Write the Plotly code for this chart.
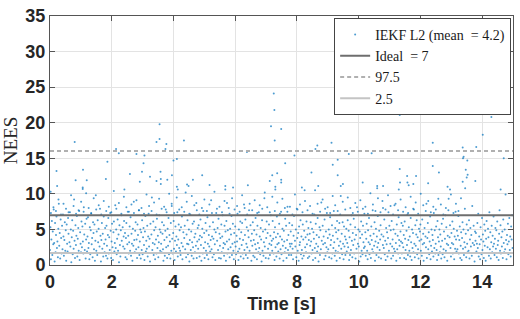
import numpy as np
import plotly.graph_objects as go

# ---------------- data ----------------
dt = 0.015  # sample period of the main NEES series [s]
nees_samples = [
2.1,5.3,0.8,3.6,6.2,1.4,4.7,2.9,7.8,3.1,0.5,5.9,1.8,4.2,6.8,2.4,3.3,1.1,5.1,8.6,2.7,4.5,0.9,6.4,3.8,1.6,5.5,2.2,7.1,4.0,1.3,3.5,6.0,2.0,4.9,0.6,5.7,3.0,1.9,6.6,
4.4,1.7,3.2,7.4,2.6,5.0,0.4,3.9,6.3,1.5,4.8,2.3,9.2,3.4,1.0,5.6,2.8,4.1,6.9,1.2,3.7,5.2,2.0,7.6,0.7,4.6,3.0,1.8,6.1,2.5,5.4,3.3,1.6,8.1,4.3,2.1,5.8,0.9,3.6,6.5,
1.9,4.0,6.7,2.4,3.1,0.8,5.3,1.5,4.9,7.2,2.9,3.8,1.1,6.0,4.5,2.2,5.7,0.6,3.4,9.8,2.0,4.7,1.4,6.3,3.2,5.1,1.7,2.6,7.9,4.1,0.5,3.5,5.9,2.3,4.4,1.2,6.8,3.0,1.8,5.2,
3.6,1.3,5.5,2.7,0.9,4.2,6.6,1.6,3.9,2.1,7.3,4.8,1.0,3.3,5.8,2.5,0.7,4.6,6.1,1.9,3.1,8.4,2.4,5.0,1.5,3.7,6.4,2.0,4.3,0.4,5.6,2.8,1.2,4.9,7.0,3.4,1.7,5.3,2.6,4.0,
6.2,2.3,4.5,1.1,3.8,5.9,0.8,2.9,7.5,4.1,1.6,3.2,5.4,2.0,6.7,1.3,4.4,3.0,0.6,5.1,2.7,8.9,3.5,1.8,4.8,6.0,2.2,3.6,1.0,5.7,4.2,2.5,7.7,1.4,3.3,5.0,0.9,4.6,2.1,6.3,
1.5,3.9,5.2,2.8,0.7,4.7,6.9,1.9,3.4,2.3,5.5,1.2,4.0,7.2,2.6,3.7,0.5,5.8,1.7,4.3,9.5,2.1,3.1,6.1,1.4,4.9,2.9,0.8,5.3,3.6,1.6,6.5,2.4,4.1,1.1,3.2,7.0,5.0,2.0,4.6,
3.0,1.8,6.0,4.4,2.2,0.6,5.6,3.5,1.3,4.8,7.8,2.5,3.9,1.0,5.1,2.7,6.6,1.5,4.2,3.3,0.9,5.9,2.0,8.3,3.7,1.6,4.5,6.2,2.3,0.7,3.4,5.4,1.9,4.0,2.8,7.4,1.2,3.6,5.7,2.4,
4.9,2.0,1.4,5.3,3.1,6.8,0.8,2.6,4.6,1.7,3.8,5.5,2.2,10.2,1.1,4.3,3.0,6.3,1.5,2.9,5.0,0.5,3.5,7.1,2.1,4.7,1.3,3.2,5.8,2.5,0.9,6.1,3.9,1.8,4.4,2.7,8.7,1.0,3.3,5.2,
2.3,5.6,3.6,1.2,4.1,6.4,2.8,0.6,3.9,5.1,1.6,7.6,2.4,4.5,1.0,3.2,5.9,2.0,4.8,1.4,6.7,3.0,0.8,4.2,2.6,5.4,1.9,3.5,9.1,2.2,4.0,1.1,6.0,3.7,1.5,5.0,2.9,0.7,4.6,7.3,
1.7,3.4,5.2,2.1,6.5,1.0,4.4,2.7,3.8,0.9,5.7,1.8,4.0,7.0,2.4,3.1,1.3,5.5,2.9,4.7,0.6,6.2,3.3,1.6,4.9,2.2,8.0,3.6,1.1,5.1,2.5,4.3,6.9,1.4,3.0,5.8,2.0,0.8,4.5,3.2,
5.4,2.6,1.5,4.1,3.3,7.2,1.9,0.7,5.0,2.3,3.7,6.1,1.2,4.6,2.8,5.9,1.6,3.5,0.9,8.5,2.1,4.2,6.4,1.4,3.0,5.3,2.5,1.0,4.8,3.9,7.7,2.0,1.7,5.6,3.4,0.6,4.4,2.7,6.0,1.3,
3.5,4.9,1.1,2.9,6.6,2.2,4.3,0.8,5.5,3.1,1.8,7.4,2.4,4.0,1.5,5.2,3.6,0.5,6.3,2.0,4.7,1.3,3.2,9.4,2.6,5.0,1.0,3.8,6.1,1.7,4.5,2.3,0.9,5.7,3.0,1.4,4.1,7.0,2.8,3.4,
2.0,6.2,3.7,1.6,4.6,0.7,5.3,2.5,3.9,1.2,6.8,2.9,4.4,1.9,3.1,5.8,0.9,4.0,2.2,7.5,1.5,3.6,5.1,2.7,0.6,4.8,3.3,1.8,6.5,2.4,5.5,1.0,3.5,8.2,2.1,4.2,1.4,5.9,3.0,2.6,
4.7,1.4,3.0,5.6,2.3,0.8,4.1,6.9,1.7,3.4,2.6,5.0,1.1,7.9,3.8,2.0,4.5,0.6,5.4,2.8,3.2,6.3,1.5,4.0,2.1,0.9,5.7,3.6,1.3,4.8,10.5,2.5,3.9,1.8,6.1,2.9,4.3,1.0,5.2,3.5,
1.2,4.4,2.7,6.0,3.3,1.6,5.1,2.1,0.7,4.6,3.7,7.1,2.4,1.0,5.8,3.0,4.2,1.9,6.6,2.6,0.5,3.9,5.3,1.4,4.9,2.2,8.8,3.4,1.7,5.5,2.9,4.0,0.8,6.4,3.1,1.3,4.7,2.5,7.3,1.8,
3.8,2.2,5.0,1.1,4.3,6.7,2.8,3.5,0.9,5.6,1.6,4.1,2.4,7.6,3.2,1.3,5.2,2.0,4.6,0.6,6.2,3.7,1.8,4.9,2.7,5.9,1.0,3.3,9.7,2.3,4.4,1.5,6.0,3.0,0.8,5.4,2.6,4.0,1.4,3.6,
5.1,1.9,3.1,6.3,2.5,4.8,0.7,3.9,1.4,5.7,2.1,7.0,3.4,1.1,4.5,2.8,6.5,1.6,3.6,5.3,0.9,4.2,2.3,8.1,1.7,3.0,5.0,2.6,0.5,4.7,3.8,1.2,6.1,2.0,4.3,1.5,5.5,3.2,2.4,7.2,
2.6,4.6,1.3,3.7,5.8,2.0,0.8,4.9,3.2,6.6,1.5,2.9,4.1,1.0,5.4,3.5,2.2,7.7,1.8,4.4,2.7,6.0,0.6,3.3,5.1,1.4,4.0,2.5,6.9,3.1,1.1,4.8,2.1,3.6,5.6,0.9,4.3,1.7,9.0,2.8,
4.0,2.4,6.4,1.5,3.4,0.7,5.2,2.9,4.6,1.2,3.8,7.4,2.0,5.5,1.7,3.0,4.9,0.9,6.2,2.6,3.6,1.3,5.0,2.3,8.4,1.9,4.4,3.1,0.6,5.7,2.2,4.1,1.6,6.7,3.5,2.7,1.0,4.7,3.3,5.9,
1.6,3.1,5.5,2.5,4.2,1.0,6.1,3.7,2.1,0.8,4.8,2.8,7.1,1.4,3.5,5.3,2.0,4.0,1.2,6.6,3.2,0.7,5.0,2.4,4.5,1.8,7.8,3.0,1.1,5.6,2.7,4.3,6.3,1.5,3.9,2.2,0.9,5.1,3.4,4.7,
5.7,2.0,3.6,1.3,6.4,2.9,4.4,0.6,3.1,5.2,1.7,4.0,2.5,8.6,1.0,3.8,5.9,2.2,4.6,1.5,3.3,6.8,0.8,2.7,5.0,1.9,4.2,3.5,1.2,7.3,2.4,4.9,1.6,3.0,5.4,2.1,0.7,6.2,3.9,1.4,
3.3,5.0,1.8,4.3,2.6,0.9,5.8,3.4,1.5,6.5,2.2,4.7,1.1,3.7,7.0,2.0,5.3,3.0,0.6,4.1,2.8,9.3,1.7,3.9,5.6,2.4,1.2,4.5,3.1,6.1,1.6,2.9,5.1,0.8,4.0,2.3,7.5,3.6,1.9,4.8,
2.2,4.1,6.9,1.6,3.5,5.4,1.0,2.7,4.6,0.7,3.8,6.0,2.3,5.0,1.4,3.2,7.9,2.5,4.4,1.1,5.7,3.0,1.8,4.9,2.0,6.3,0.9,3.6,5.2,2.6,4.2,1.3,8.3,3.1,1.7,5.5,2.8,0.5,4.7,3.4,
4.5,1.9,3.0,5.9,2.4,7.2,1.2,4.0,2.9,0.8,5.3,3.6,1.5,6.6,2.1,4.3,3.3,1.0,5.7,2.7,4.8,0.6,3.7,6.2,1.7,2.5,5.1,3.9,1.3,7.4,2.2,4.6,0.9,3.2,5.5,1.8,4.1,2.6,6.8,3.0,
1.4,3.7,5.2,2.3,4.9,1.1,6.1,2.8,3.4,0.7,4.4,7.7,2.0,5.6,1.6,3.9,2.6,4.7,1.0,6.4,3.1,1.8,5.0,2.2,9.9,3.5,0.8,4.2,2.9,5.8,1.5,3.3,6.6,2.1,4.0,1.2,5.4,3.6,7.0,2.4,
]

# interleaved samples that fall just above the ideal line
mid_start = 0.03
mid_dt = 0.0815
mid_samples = [
7.3,8.1,7.6,9.2,7.1,8.6,7.9,7.4,9.8,8.3,7.2,7.7,8.9,7.5,10.1,8.0,7.3,9.4,7.8,8.4,
7.1,9.0,7.6,8.2,7.4,10.4,7.9,8.7,7.2,9.6,8.1,7.5,8.5,7.3,9.1,7.7,8.0,7.2,9.9,8.3,
7.6,8.8,7.1,9.3,7.9,8.2,7.4,10.0,8.6,7.3,9.5,7.8,8.1,7.5,8.9,7.2,9.7,8.4,7.7,7.1,
8.0,9.2,7.6,8.5,7.3,10.3,7.9,8.2,7.4,9.0,8.7,7.2,9.4,7.8,8.3,7.5,9.8,8.0,7.1,8.6,
7.7,9.1,7.3,8.4,7.9,10.2,8.1,7.4,9.6,7.6,8.8,7.2,9.3,8.0,7.5,8.2,7.1,9.9,7.8,8.5,
7.4,9.0,7.7,8.3,7.2,10.5,8.6,7.5,9.2,7.9,8.1,7.3,9.7,8.4,7.6,7.1,8.9,7.8,9.5,8.0,
7.3,8.7,7.5,9.1,7.9,8.2,7.2,10.1,8.5,7.6,9.4,7.4,8.0,7.8,9.8,8.3,7.1,8.6,7.7,9.2,
7.5,8.1,7.3,9.6,7.9,8.8,7.2,10.0,8.4,7.6,9.0,7.4,8.2,7.8,9.3,8.5,7.1,8.0,7.7,9.9,
7.3,8.6,7.6,9.4,
]

# isolated high NEES values (time [s], value)
peak_times = [
0.02,0.80,3.55,3.55,3.45,3.77,4.34,3.74,2.14,2.23,2.80,3.06,4.00,4.11,1.86,3.03,0.21,1.07,2.59,2.98,
3.58,3.95,4.63,4.93,0.83,1.19,1.81,3.24,3.59,3.59,3.45,3.80,2.91,0.23,1.06,1.06,2.41,4.11,4.14,4.44,4.49,
7.25,7.27,7.16,7.49,7.28,9.12,8.66,8.60,6.38,7.92,9.68,9.32,7.62,9.16,7.36,7.20,8.47,9.32,7.49,7.49,
7.12,9.49,9.42,5.17,6.41,8.69,5.68,5.68,5.93,7.30,7.30,8.16,
11.33,11.83,14.30,14.02,12.40,13.37,13.81,10.42,13.38,13.40,13.52,14.70,12.40,11.33,12.60,13.47,13.53,
11.57,11.86,13.50,13.78,13.37,10.13,11.34,11.58,11.62,11.77,12.25,10.60,10.60,10.79,12.88,12.96,13.45,11.30,14.60,
]
peak_values = [
10.3,17.3,19.8,17.7,17.3,17.0,17.5,16.3,16.3,15.7,15.6,15.4,14.7,14.9,14.5,14.3,13.2,13.4,12.8,13.1,
13.1,12.6,12.0,12.6,11.9,11.9,12.1,12.4,12.1,11.4,11.8,12.0,11.7,11.1,10.9,10.7,10.6,11.0,10.6,11.3,11.1,
24.1,21.8,19.5,19.1,17.5,17.2,16.8,16.3,15.9,15.4,15.6,14.8,14.3,14.1,12.9,12.6,13.0,12.6,12.0,11.6,
11.8,11.4,11.1,11.25,11.2,11.1,11.1,10.6,10.9,11.0,10.6,10.9,
21.1,21.5,20.8,18.3,17.2,16.5,16.6,15.7,15.0,15.2,14.7,15.0,13.9,13.5,13.0,13.4,12.7,
12.5,12.5,12.3,11.8,11.7,11.6,11.6,11.6,11.2,11.4,11.5,11.1,10.8,11.1,11.0,10.6,10.8,10.6,10.6,
]

mean_nees = 4.2
ideal = 7
chi2_upper = 16.01   # 97.5 % bound
chi2_lower = 1.69    # 2.5 % bound
time_limits = [0, 15]
y_limits = [0, 35]
x_ticks = [0, 2, 4, 6, 8, 10, 12, 14]
y_ticks = [0, 5, 10, 15, 20, 25, 30, 35]

# ---------------- figure ----------------
t_samples = np.arange(len(nees_samples)) * dt
t_mid = mid_start + np.arange(len(mid_samples)) * mid_dt
t_all = np.concatenate([t_samples, t_mid, peak_times])
y_all = np.concatenate([nees_samples, mid_samples, peak_values])

serif = "Liberation Serif, Times New Roman, serif"
sans = "Liberation Sans, Arial, sans-serif"

fig = go.Figure()
fig.add_trace(go.Scatter(
    x=t_all, y=y_all, mode="markers",
    marker=dict(size=2, color="rgba(0,114,189,0.7)", line=dict(width=0)),
    name=f"IEKF L2 (mean  = {mean_nees})",
))
fig.add_trace(go.Scatter(
    x=time_limits, y=[ideal, ideal], mode="lines",
    line=dict(color="#6e6e6e", width=2),
    name=f"Ideal  = {ideal}",
))
fig.add_trace(go.Scatter(
    x=time_limits, y=[chi2_upper, chi2_upper], mode="lines",
    line=dict(color="#b0b0b0", width=2, dash="4px,3px"),
    name="97.5",
))
fig.add_trace(go.Scatter(
    x=time_limits, y=[chi2_lower, chi2_lower], mode="lines",
    line=dict(color="#c4c4c4", width=2),
    name="2.5",
))

axis_common = dict(
    showline=True, linecolor="#555555", linewidth=1, mirror="allticks",
    ticks="inside", ticklen=5, tickcolor="#555555",
    showgrid=True, gridcolor="#e3e3e3", gridwidth=1, zeroline=False,
    tickfont=dict(family=sans, size=18, color="#262626", weight="bold"),
)

fig.update_xaxes(range=time_limits, tickvals=x_ticks, **axis_common,
                 title=dict(text="Time [s]", standoff=6,
                            font=dict(family=sans, size=18, color="#262626", weight="bold")))
fig.update_yaxes(range=y_limits, tickvals=y_ticks, **axis_common,
                 title=dict(text="NEES", standoff=4,
                            font=dict(family=serif, size=19, color="#262626")))

fig.update_layout(
    width=520, height=319,
    margin=dict(l=50, r=6, t=13, b=54),
    paper_bgcolor="white", plot_bgcolor="white",
    showlegend=True,
    legend=dict(
        x=0.996, y=0.992, xanchor="right", yanchor="top",
        bgcolor="white", bordercolor="#444444", borderwidth=1,
        font=dict(family=serif, size=14, color="#1a1a1a"),
        itemwidth=30, tracegroupgap=0,
    ),
)

fig.write_html("out.html")
